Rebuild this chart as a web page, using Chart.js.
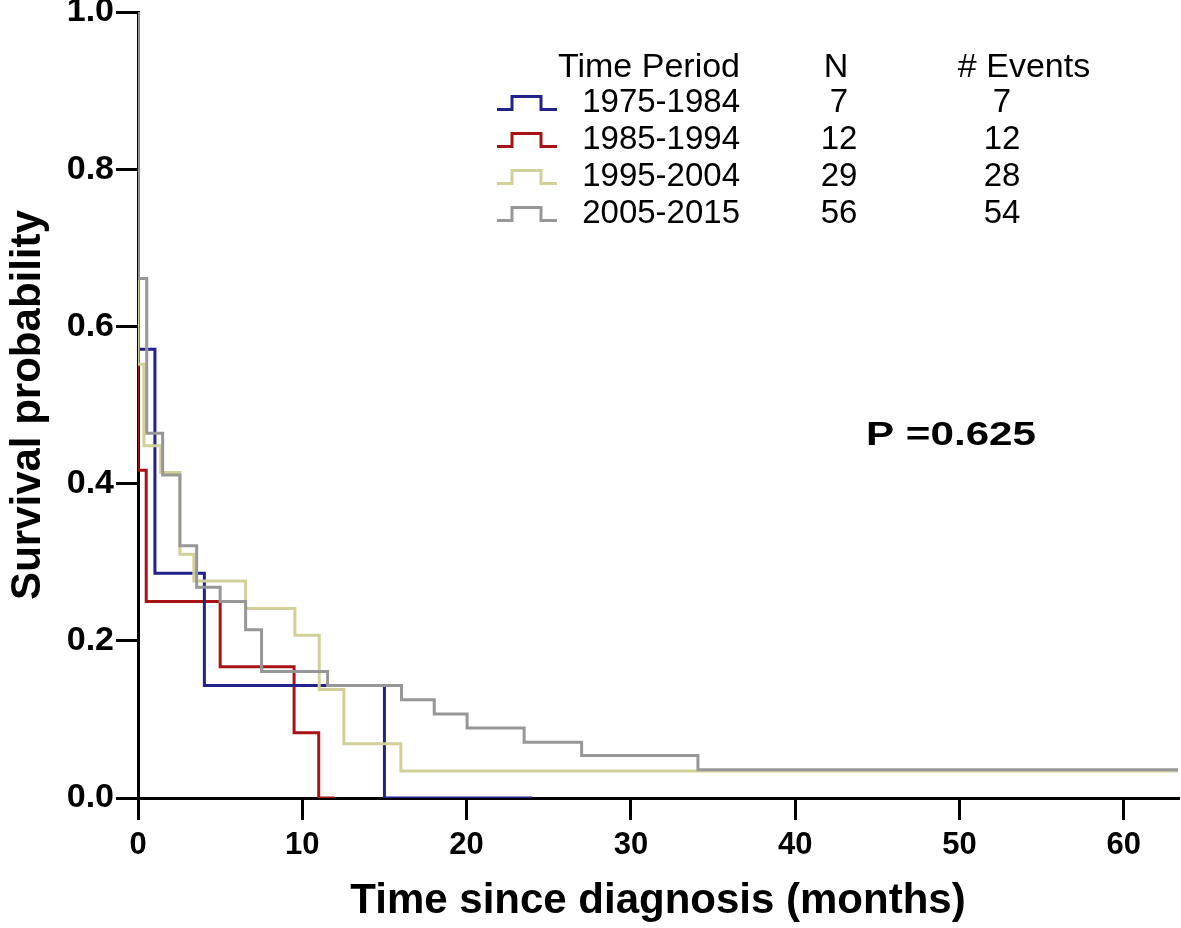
<!DOCTYPE html>
<html><head><meta charset="utf-8">
<script src="https://cdn.jsdelivr.net/npm/chart.js@4"></script>
<style>html,body{margin:0;padding:0;background:#fff;}#wrap{width:1181px;height:928px;position:relative;}</style>
</head><body><div id="wrap"><canvas id="c" width="1181" height="928"></canvas></div>
<script>
// ---- data (Kaplan-Meier steps) ----
const periods = ['1975-1984', '1985-1994', '1995-2004', '2005-2015'];
const nPatients = [7, 12, 29, 56];
const nEvents = [7, 12, 28, 54];

const time1975 = [0, 0, 1.03, 4.04, 15.0, 24.0];
const surv1975 = [1.0, 0.571, 0.286, 0.143, 0.0, 0.0];

const time1985 = [0, 0, 0.5, 5.0, 9.5, 11.0, 12.0];
const surv1985 = [1.0, 0.417, 0.25, 0.167, 0.083, 0.0, 0.0];

const time1995 = [0, 0, 0.36, 1.38, 2.55, 3.4, 6.55, 9.55, 11.03, 12.53, 16.0, 63.3];
const surv1995 = [1.0, 0.552, 0.448, 0.414, 0.310, 0.276, 0.241, 0.207, 0.138, 0.069, 0.0345, 0.0345];

const time2005 = [0, 0, 0.53, 1.5, 2.55, 3.57, 5.0, 6.55, 7.52, 11.54, 16.04, 18.03, 20.03, 23.5, 27.0, 34.08, 63.3];
const surv2005 = [1.0, 0.661, 0.464, 0.411, 0.321, 0.268, 0.25, 0.214, 0.161, 0.143, 0.125, 0.107, 0.089, 0.071, 0.054, 0.036, 0.036];

const xTicks = [0, 10, 20, 30, 40, 50, 60];
const yTicks = [0.0, 0.2, 0.4, 0.6, 0.8, 1.0];
const xTitle = 'Time since diagnosis (months)';
const yTitle = 'Survival probability';
const legendHeader = ['Time Period', 'N', '# Events'];
const pValueText = 'P =0.625';

const colors = ['#22228a', '#a81414', '#d0d098', '#979797'];

function pts(t, s) { return t.map((x, i) => ({x: x, y: s[i]})); }

const datasets = [
  {label: periods[3], data: pts(time2005, surv2005), borderColor: colors[3], order: 0},
  {label: periods[2], data: pts(time1995, surv1995), borderColor: colors[2], order: 1},
  {label: periods[0], data: pts(time1975, surv1975), borderColor: colors[0], order: 2},
  {label: periods[1], data: pts(time1985, surv1985), borderColor: colors[1], order: 3}
].map(d => Object.assign(d, {showLine: true, stepped: 'before', borderWidth: 3, pointRadius: 0, fill: false, borderCapStyle: 'butt', borderJoinStyle: 'miter'}));

const FONT = "'Liberation Sans', Arial, Helvetica, sans-serif";

const overlay = {
  id: 'overlay',
  afterDraw(chart) {
    const ctx = chart.ctx;
    ctx.save();
    ctx.fillStyle = '#000';
    ctx.textBaseline = 'middle';
    ctx.font = '34px ' + FONT;
    const headY = 68;
    ctx.textAlign = 'right';
    ctx.fillText(legendHeader[0], 740, headY);
    ctx.textAlign = 'center';
    ctx.fillText(legendHeader[1], 836, headY);
    ctx.fillText(legendHeader[2], 1024, headY);
    ctx.font = '33px ' + FONT;
    for (let i = 0; i < periods.length; i++) {
      const cy = 103 + i * 37;
      ctx.strokeStyle = colors[i];
      ctx.lineWidth = 3;
      ctx.beginPath();
      ctx.moveTo(497, cy + 6.5);
      ctx.lineTo(512, cy + 6.5);
      ctx.lineTo(512, cy - 6.5);
      ctx.lineTo(541, cy - 6.5);
      ctx.lineTo(541, cy + 6.5);
      ctx.lineTo(557, cy + 6.5);
      ctx.stroke();
      ctx.fillStyle = '#000';
      ctx.textAlign = 'right';
      ctx.fillText(periods[i], 740, cy);
      ctx.textAlign = 'center';
      ctx.fillText(String(nPatients[i]), 839, cy);
      ctx.fillText(String(nEvents[i]), 1002, cy);
    }
    // p value
    ctx.font = 'bold 34px ' + FONT;
    ctx.textAlign = 'left';
    const w = ctx.measureText(pValueText).width;
    ctx.translate(866, 436);
    ctx.scale(170 / w, 1);
    ctx.fillText(pValueText, 0, 0);
    ctx.restore();
  }
};

new Chart(document.getElementById('c'), {
  type: 'scatter',
  data: {datasets: datasets},
  options: {
    responsive: false,
    devicePixelRatio: 1,
    animation: false,
    layout: {padding: {top: 12, right: 3, left: 0, bottom: 0}},
    plugins: {legend: {display: false}, tooltip: {enabled: false}},
    scales: {
      x: {
        type: 'linear', min: 0, max: 63.3,
        afterBuildTicks: s => { s.ticks = xTicks.map(v => ({value: v})); },
        afterFit: s => { s.height = 130; s.paddingLeft = 0; s.paddingRight = 0; },
        ticks: {color: '#000', font: {family: FONT, size: 31, weight: 'bold'}, padding: 7, maxRotation: 0, autoSkip: false},
        grid: {drawOnChartArea: false, drawTicks: true, tickLength: 22, color: '#000', lineWidth: 3},
        border: {display: true, color: '#000', width: 3},
        title: {display: true, text: xTitle, color: '#000', font: {family: FONT, size: 42, weight: 'bold'}, padding: {top: 0, bottom: 1}}
      },
      y: {
        type: 'linear', min: 0, max: 1,
        afterBuildTicks: s => { s.ticks = yTicks.map(v => ({value: v})); },
        afterFit: s => { s.width = 138; s.paddingTop = 0; s.paddingBottom = 0; },
        ticks: {color: '#000', font: {family: FONT, size: 34, weight: 'bold'}, padding: 2, callback: v => Number(v).toFixed(1)},
        grid: {drawOnChartArea: false, drawTicks: true, tickLength: 22, color: '#000', lineWidth: 3},
        border: {display: true, color: '#000', width: 3},
        title: {display: true, text: yTitle, color: '#000', font: {family: FONT, size: 42, weight: 'bold'}, padding: {top: 3, bottom: 0}}
      }
    }
  },
  plugins: [overlay]
});
</script></body></html>
